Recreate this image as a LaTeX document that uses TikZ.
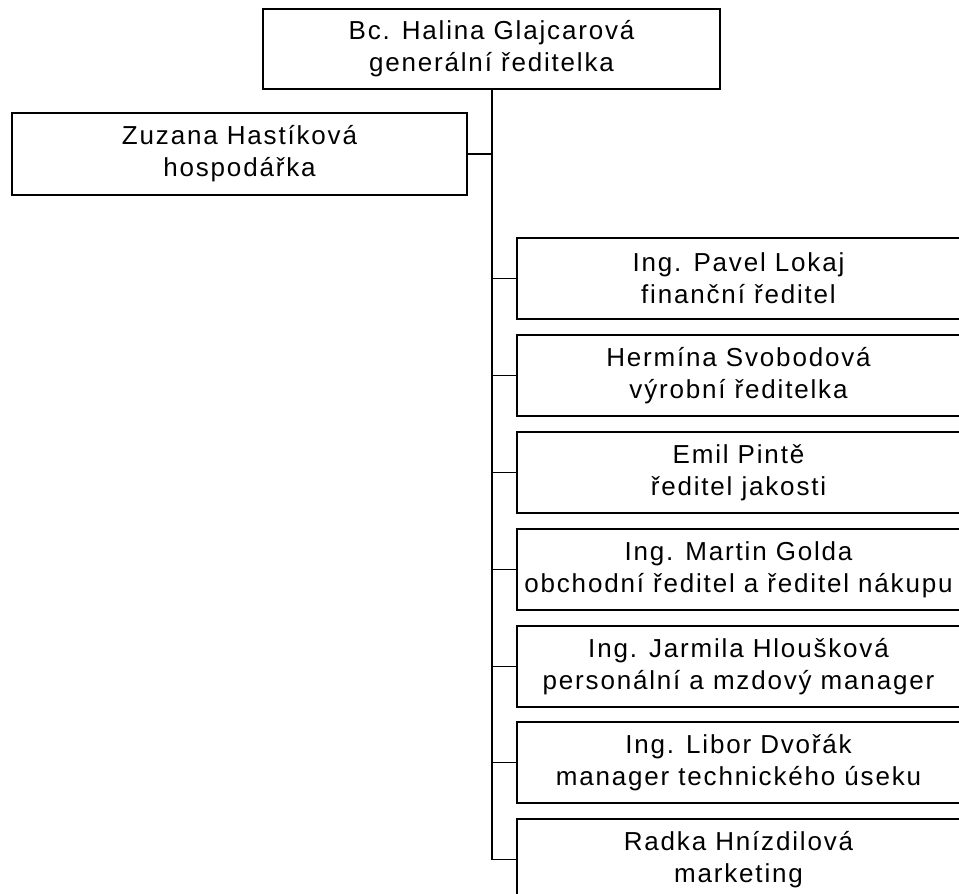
\documentclass[tikz,border=0pt]{standalone}
\usepackage{fontspec}
\setmainfont{Liberation Sans}[LetterSpace=7]
\begin{document}
\begin{tikzpicture}[x=1pt,y=-1pt,
  box/.style={draw, line width=1.8pt, inner sep=0pt, align=center,
    font={\fontsize{26}{32}\selectfont}},
  topbox/.style={box, minimum width=457pt, minimum height=80pt},
  leftbox/.style={box, minimum width=455pt, minimum height=82pt},
  rbox/.style={box, minimum width=443pt, minimum height=81pt},
  link/.style={line width=1.8pt}]
\clip (0,0) rectangle (959,894);
\fill[white] (0,0) rectangle (959,894);
\node[topbox] (gen) at (491.5,49) {Bc. Halina Glajcarová\\generální ředitelka};
\node[leftbox] (hosp) at (239.5,154) {Zuzana Hastíková\\hospodářka};
\node[rbox] (r1) at (738.5,278.5) {Ing. Pavel Lokaj\\finanční ředitel};
\node[rbox] (r2) at (738.5,375.5) {Hermína Svobodová\\výrobní ředitelka};
\node[rbox] (r3) at (738.5,472.5) {Emil Pintě\\ředitel jakosti};
\node[rbox] (r4) at (738.5,569.5) {Ing. Martin Golda\\obchodní ředitel a ředitel nákupu};
\node[rbox] (r5) at (738.5,666.5) {Ing. Jarmila Hloušková\\personální a mzdový manager};
\node[rbox] (r6) at (738.5,762.5) {Ing. Libor Dvořák\\manager technického úseku};
\node[rbox] (r7) at (738.5,859.5) {Radka Hnízdilová\\marketing};
\coordinate (tb) at (492,89);
\coordinate (tend) at (tb |- r7.west);
\draw[link] (tb) -- (tend) -- (r7.west);
\draw[link] (hosp.east) -- (tb |- hosp.east);
\foreach \n in {r1,r2,r3,r4,r5,r6}{
  \draw[link] (\n.west) -- (tb |- \n.west);
}
\end{tikzpicture}
\end{document}
